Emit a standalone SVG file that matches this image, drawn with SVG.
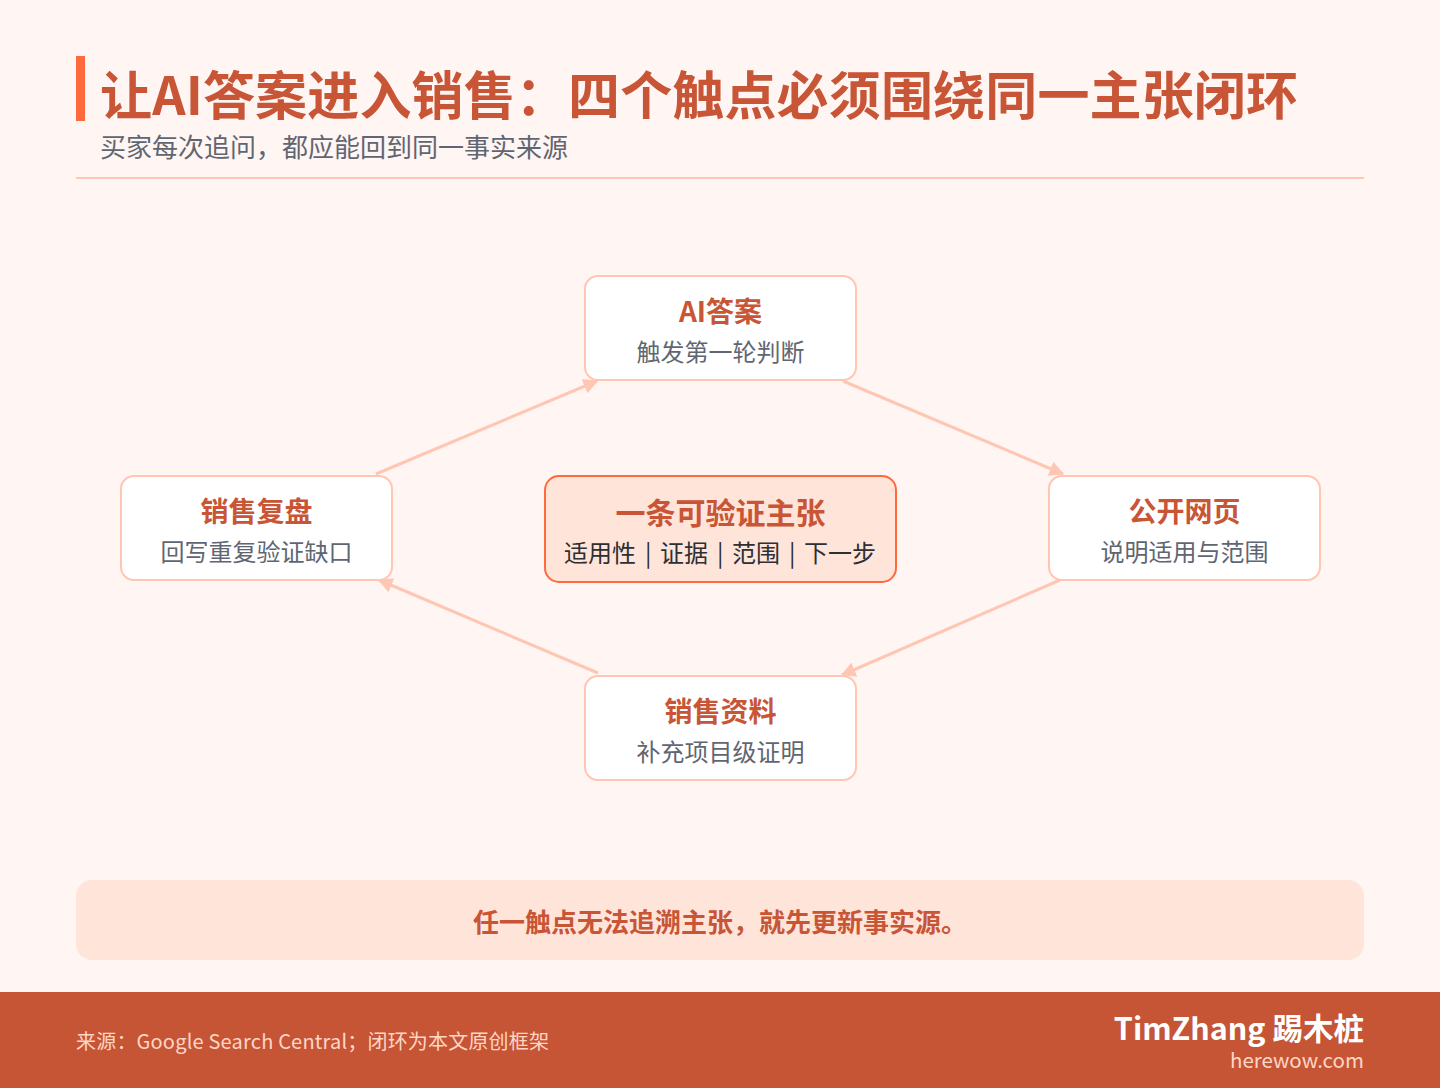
<svg xmlns="http://www.w3.org/2000/svg" width="1440" height="1088" viewBox="0 0 1440 1088">
<defs>
<style>
text{font-family:"Noto Sans CJK SC","Noto Sans",sans-serif}
.title{font-size:52px;font-weight:700;fill:#c85535}
.sub{font-size:26px;fill:#5f6672}
.node{fill:#ffffff;stroke:#ffc6b3;stroke-width:2}
.core{fill:#ffe4da;stroke:#ff6a3d;stroke-width:2}
.nt{font-size:28px;font-weight:700;fill:#c85535;text-anchor:middle}
.ns{font-size:24px;fill:#5f6672;text-anchor:middle}
.ct{font-size:30px;font-weight:700;fill:#c85535;text-anchor:middle}
.cs{font-size:24px;fill:#2d2f33}
.edge{stroke:#ffc6b3;stroke-width:3;fill:none}
</style>
<marker id="ah" viewBox="0 0 10 10" refX="9" refY="5" markerWidth="5" markerHeight="5" orient="auto" markerUnits="strokeWidth">
<path d="M0,0 L10,5 L0,10 z" fill="#ffc6b3"/>
</marker>
</defs>
<rect x="0" y="0" width="1440" height="1088" fill="#fff5f2"/>
<g id="header">
<rect x="76" y="56" width="9" height="65" fill="#ff6a3d"/>
<text class="title" x="100" y="115" textLength="1198">让AI答案进入销售：四个触点必须围绕同一主张闭环</text>
<text class="sub" x="100" y="157">买家每次追问，都应能回到同一事实来源</text>
<rect x="76" y="177" width="1288" height="2" fill="#ffc6b3"/>
</g>
<g id="connectors">
<line class="edge" x1="376" y1="474" x2="597" y2="381" marker-end="url(#ah)"/>
<line class="edge" x1="843" y1="381" x2="1063" y2="474" marker-end="url(#ah)"/>
<line class="edge" x1="1060" y1="580" x2="842" y2="675" marker-end="url(#ah)"/>
<line class="edge" x1="598" y1="673" x2="379" y2="580" marker-end="url(#ah)"/>
</g>
<g id="node-ai">
<rect class="node" x="585" y="276" width="271" height="104" rx="13"/>
<text class="nt" x="720.5" y="322">AI答案</text>
<text class="ns" x="720.5" y="361">触发第一轮判断</text>
</g>
<g id="node-web">
<rect class="node" x="1049" y="476" width="271" height="104" rx="13"/>
<text class="nt" x="1184.5" y="522">公开网页</text>
<text class="ns" x="1184.5" y="561">说明适用与范围</text>
</g>
<g id="node-sales">
<rect class="node" x="585" y="676" width="271" height="104" rx="13"/>
<text class="nt" x="720.5" y="722">销售资料</text>
<text class="ns" x="720.5" y="761">补充项目级证明</text>
</g>
<g id="node-review">
<rect class="node" x="121" y="476" width="271" height="104" rx="13"/>
<text class="nt" x="256.5" y="522">销售复盘</text>
<text class="ns" x="256.5" y="561">回写重复验证缺口</text>
</g>
<g id="node-core">
<rect class="core" x="545" y="476" width="351" height="106" rx="14"/>
<text class="ct" x="720.5" y="524">一条可验证主张</text>
<text class="cs" y="562"><tspan x="564">适用性</tspan><tspan x="645">|</tspan><tspan x="660">证据</tspan><tspan x="717">|</tspan><tspan x="732">范围</tspan><tspan x="789">|</tspan><tspan x="804">下一步</tspan></text>
</g>
<g id="note">
<rect x="76" y="880" width="1288" height="80" rx="16" fill="#ffe4da"/>
<text x="720" y="932" text-anchor="middle" font-size="26" font-weight="700" fill="#c85535">任一触点无法追溯主张，就先更新事实源。</text>
</g>
<g id="footer">
<rect x="0" y="992" width="1440" height="96" fill="#c65535"/>
<text x="76" y="1049" font-size="20" fill="#ffd5c6" textLength="473">来源：Google Search Central；闭环为本文原创框架</text>
<text x="1364" y="1040" font-size="30.5" font-weight="700" fill="#ffffff" text-anchor="end">TimZhang 踢木桩</text>
<text x="1364" y="1068" font-size="20.5" fill="#ffd5c6" text-anchor="end">herewow.com</text>
</g>
</svg>
